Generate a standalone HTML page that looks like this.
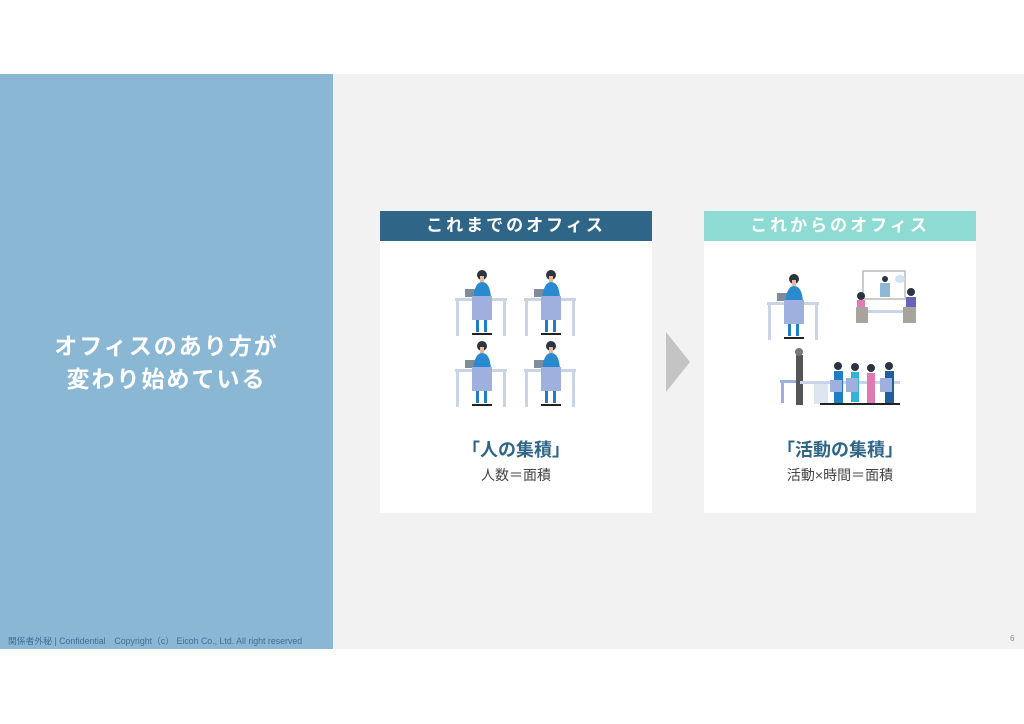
<!DOCTYPE html>
<html><head><meta charset="utf-8"><style>
body{margin:0;width:1024px;height:724px;background:#fff;position:relative;overflow:hidden;font-family:"Liberation Sans","Noto Sans CJK JP",sans-serif}
.abs{position:absolute}
</style></head><body>
<div class="abs" style="left:0;top:74px;width:333px;height:575px;background:#8ab8d4"></div>
<div class="abs" style="left:333px;top:74px;width:691px;height:575px;background:#f2f2f2"></div>
<div class="abs" style="left:0;top:330px;width:333px;text-align:center;color:#fff;font-size:23px;font-weight:bold;line-height:33px;letter-spacing:2px">オフィスのあり方が<br>変わり始めている</div>
<div class="abs" style="left:8px;top:634px;font-size:8.8px;color:#3f6f93;white-space:nowrap">関係者外秘 | Confidential　Copyright（c） Eicoh Co., Ltd. All right reserved</div>
<div class="abs" style="left:1010px;top:634px;font-size:8px;color:#888">6</div>

<div class="abs" style="left:380px;top:211px;width:272px;height:302px;background:#fff"></div>
<div class="abs" style="left:380px;top:211px;width:272px;height:30px;background:#2f6688;color:#fff;font-size:17px;font-weight:bold;text-align:center;line-height:30px;letter-spacing:3px">これまでのオフィス</div>
<div class="abs" style="left:704px;top:211px;width:272px;height:302px;background:#fff"></div>
<div class="abs" style="left:704px;top:211px;width:272px;height:30px;background:#8ddbd2;color:#fff;font-size:17px;font-weight:bold;text-align:center;line-height:30px;letter-spacing:3px">これからのオフィス</div>

<div class="abs" style="left:380px;top:436px;width:272px;text-align:center;color:#2f6688;font-size:18px;font-weight:bold">「人の集積」</div>
<div class="abs" style="left:380px;top:465px;width:272px;text-align:center;color:#444;font-size:14px">人数＝面積</div>
<div class="abs" style="left:704px;top:436px;width:272px;text-align:center;color:#2f6688;font-size:18px;font-weight:bold">「活動の集積」</div>
<div class="abs" style="left:704px;top:465px;width:272px;text-align:center;color:#444;font-size:14px">活動×時間＝面積</div>

<svg class="abs" style="left:0;top:0" width="1024" height="724">
<defs>
<g id="p">
<rect x="0" y="28" width="52" height="3" fill="#c9d5e6"/>
<rect x="1" y="28" width="3" height="38" fill="#c9d5e6"/>
<rect x="48" y="28" width="3" height="38" fill="#c9d5e6"/>
<rect x="10" y="19" width="10" height="8" fill="#7f8c99"/>
<circle cx="27" cy="5" r="5" fill="#2b3440"/>
<rect x="25" y="6" width="4" height="6" fill="#e8b89a"/>
<path d="M18 28 Q20 12 27 12 Q35 12 36 28Z" fill="#2a8ad0"/>
<rect x="17" y="26" width="20" height="24" fill="#9fb0df"/>
<rect x="21" y="50" width="3" height="12" fill="#1f7fc4"/>
<rect x="29" y="50" width="3" height="12" fill="#1f7fc4"/>
<rect x="17" y="63" width="20" height="2" fill="#222"/>
</g>
</defs>
<use href="#p" x="455" y="270"/><use href="#p" x="524" y="270"/>
<use href="#p" x="455" y="341"/><use href="#p" x="524" y="341"/>
<use href="#p" x="767" y="274"/>
<polygon points="666,332 690,362 666,392" fill="#c4c4c4"/>
<rect x="863" y="271" width="42" height="28" fill="#fff" stroke="#bbb" stroke-width="1.5"/>
<circle cx="885" cy="279" r="3" fill="#2b3440"/><rect x="880" y="283" width="10" height="14" fill="#8fb8d6"/>
<ellipse cx="900" cy="279" rx="5" ry="4" fill="#cfe3f3"/>
<rect x="862" y="310" width="46" height="3" fill="#c9d5e6"/>
<circle cx="861" cy="296" r="4" fill="#2b3440"/><rect x="857" y="300" width="8" height="10" fill="#e07ab0"/>
<rect x="856" y="307" width="12" height="16" fill="#a8a39c"/>
<circle cx="911" cy="292" r="4" fill="#2b3440"/><rect x="906" y="297" width="10" height="12" fill="#6a62b8"/>
<rect x="903" y="307" width="13" height="16" fill="#a8a39c"/>
<rect x="796" y="355" width="7" height="50" fill="#555"/><circle cx="799" cy="352" r="4" fill="#777"/>
<rect x="780" y="380" width="16" height="3" fill="#9fb0df"/><rect x="781" y="383" width="3" height="20" fill="#9fb0df"/>
<rect x="800" y="381" width="100" height="3" fill="#c9d5e6"/>
<rect x="814" y="384" width="14" height="20" fill="#dce5f0"/>
<g fill="#2b3440"><circle cx="838" cy="366" r="4"/><circle cx="855" cy="367" r="4"/><circle cx="871" cy="368" r="4"/><circle cx="889" cy="366" r="4"/></g>
<rect x="834" y="371" width="9" height="32" fill="#1f7fc4"/>
<rect x="851" y="372" width="8" height="30" fill="#35b2d8"/>
<rect x="867" y="373" width="8" height="30" fill="#e07ab0"/>
<rect x="885" y="371" width="9" height="32" fill="#1f5f9c"/>
<g fill="#9fb0df"><rect x="846" y="378" width="12" height="14"/><rect x="880" y="378" width="12" height="14"/><rect x="830" y="380" width="12" height="12"/></g>
<rect x="820" y="403" width="80" height="2" fill="#222"/>
</svg>
</body></html>
